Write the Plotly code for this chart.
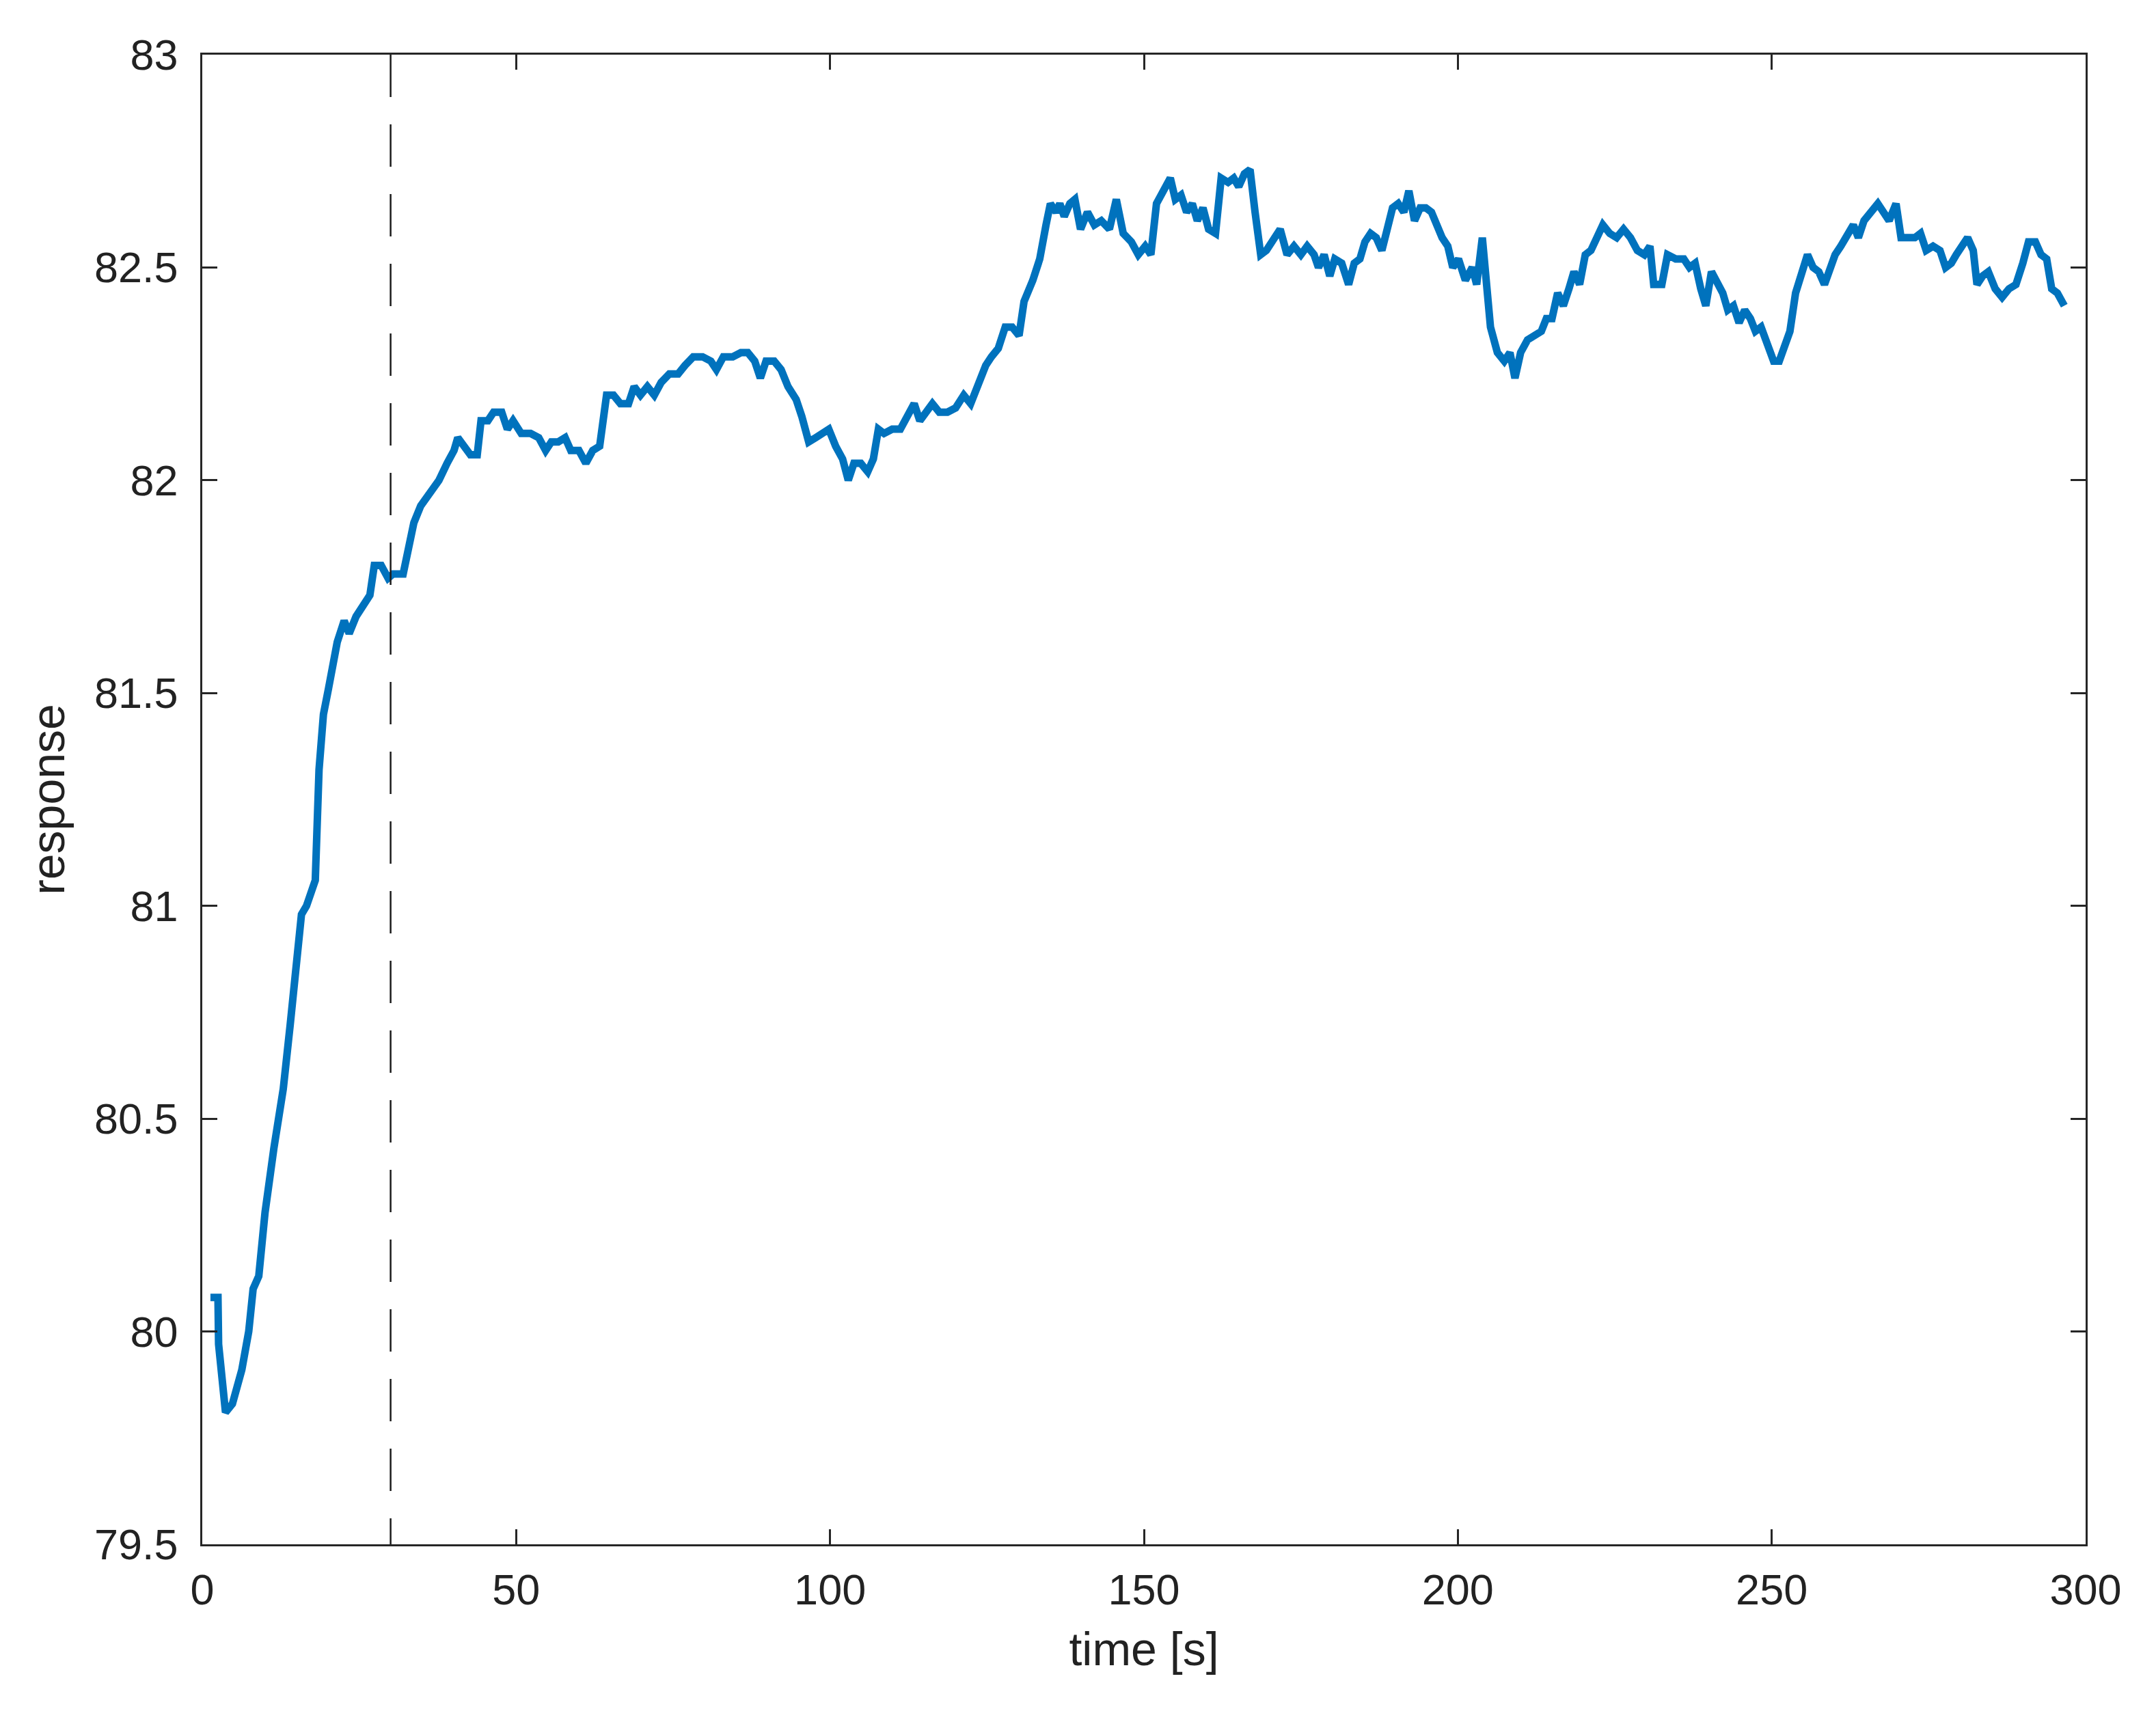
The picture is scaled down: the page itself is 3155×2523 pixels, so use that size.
import plotly.graph_objects as go

# time [s] and response values
time_s = [1.3, 2.5, 2.6, 3.7, 4.8, 6.3, 7.4, 8.1, 9.0, 10.0, 11.4, 12.9, 14.0, 15.1, 15.8, 16.6, 18.0, 18.6, 19.3, 20.1,
          21.5, 22.6, 23.4, 24.5, 25.4, 26.7, 27.4, 28.5, 29.6, 30.4, 32.0, 32.8, 33.7, 34.8, 36.1, 37.7, 39.0, 40.1, 40.7, 41.8,
          42.7, 43.8, 44.4, 45.5, 46.4, 47.7, 48.6, 49.5, 50.8, 52.3, 53.6, 54.7, 55.6, 56.7, 57.8, 58.7, 60.0, 61.1, 62.2, 63.3,
          64.4, 65.5, 66.6, 67.9, 68.8, 69.8, 70.9, 72.0, 73.1, 74.4, 75.8, 76.9, 78.2, 79.7, 81.0, 81.9, 83.0, 84.5, 85.8, 86.9,
          88.0, 88.9, 89.8, 91.1, 92.2, 93.3, 94.6, 95.5, 96.6, 97.7, 98.8, 99.8, 100.9, 102.0, 102.9, 103.8, 104.9, 106.0, 106.9, 107.7,
          108.6, 109.9, 111.2, 112.3, 113.4, 114.3, 115.2, 116.3, 117.4, 118.7, 120.0, 121.3, 122.4, 123.5, 124.8, 125.7, 126.8, 127.9, 129.0, 130.1,
          130.9, 132.3, 133.4, 134.4, 135.1, 136.0, 136.6, 137.3, 138.2, 139.0, 139.9, 141.0, 142.1, 143.2, 144.5, 145.6, 146.7, 148.0, 149.1, 150.2,
          151.1, 152.0, 153.1, 154.2, 155.0, 155.9, 156.8, 157.7, 158.5, 159.4, 160.3, 161.4, 162.3, 163.4, 164.3, 165.1, 166.0, 166.9, 167.7, 168.6,
          169.5, 170.3, 171.7, 172.8, 173.9, 175.0, 176.0, 177.1, 177.8, 178.7, 179.6, 180.4, 181.5, 182.6, 183.5, 184.4, 185.2, 186.1, 187.0, 187.9,
          188.8, 189.6, 190.5, 191.4, 192.2, 193.1, 194.0, 194.9, 195.8, 196.6, 197.5, 198.4, 199.2, 200.1, 201.2, 202.3, 203.0, 203.9, 204.5, 205.2,
          206.3, 207.4, 208.3, 209.1, 210.0, 211.1, 212.2, 213.3, 214.1, 215.0, 215.9, 216.8, 217.7, 218.5, 219.4, 220.3, 221.2, 222.0, 223.1, 224.2,
          225.3, 226.4, 227.5, 228.6, 229.7, 230.6, 231.2, 232.5, 233.4, 234.7, 236.0, 236.9, 237.8, 238.7, 239.5, 240.4, 241.3, 242.2, 243.0, 243.9,
          244.8, 245.7, 246.6, 247.4, 248.3, 249.4, 250.3, 251.2, 252.0, 252.9, 253.8, 254.9, 255.7, 256.6, 257.5, 258.4, 259.3, 260.1, 261.0, 261.9,
          263.0, 263.8, 264.7, 265.8, 266.9, 267.8, 268.7, 269.8, 270.6, 271.7, 272.8, 273.7, 274.6, 275.7, 276.8, 277.7, 278.6, 279.4, 280.3, 281.2,
          282.1, 282.7, 283.6, 284.5, 285.6, 286.7, 287.8, 288.9, 290.0, 290.9, 292.0, 292.9, 293.8, 294.6, 295.5, 296.6]

response = [80.08, 80.08, 79.97, 79.81, 79.83, 79.91, 80.00, 80.10, 80.13, 80.28, 80.43, 80.57, 80.72, 80.86, 80.98, 81.00, 81.06, 81.32, 81.45, 81.51,
            81.62, 81.67, 81.64, 81.68, 81.70, 81.73, 81.80, 81.80, 81.77, 81.78, 81.78, 81.83, 81.90, 81.94, 81.97, 82.00, 82.04, 82.07, 82.10, 82.08,
            82.06, 82.06, 82.14, 82.14, 82.16, 82.16, 82.12, 82.14, 82.11, 82.11, 82.10, 82.07, 82.09, 82.09, 82.10, 82.07, 82.07, 82.04, 82.07, 82.08,
            82.20, 82.20, 82.18, 82.18, 82.22, 82.20, 82.22, 82.20, 82.23, 82.25, 82.25, 82.27, 82.29, 82.29, 82.28, 82.26, 82.29, 82.29, 82.30, 82.30,
            82.28, 82.24, 82.28, 82.28, 82.26, 82.22, 82.19, 82.15, 82.09, 82.10, 82.11, 82.12, 82.08, 82.05, 82.00, 82.04, 82.04, 82.02, 82.05, 82.12,
            82.11, 82.12, 82.12, 82.15, 82.18, 82.14, 82.16, 82.18, 82.16, 82.16, 82.17, 82.20, 82.18, 82.22, 82.27, 82.29, 82.31, 82.36, 82.36, 82.34,
            82.42, 82.47, 82.52, 82.60, 82.65, 82.63, 82.65, 82.62, 82.65, 82.66, 82.59, 82.63, 82.60, 82.61, 82.59, 82.66, 82.58, 82.56, 82.53, 82.55,
            82.53, 82.65, 82.68, 82.71, 82.66, 82.67, 82.63, 82.65, 82.61, 82.64, 82.59, 82.58, 82.71, 82.70, 82.71, 82.69, 82.72, 82.73, 82.63, 82.53,
            82.54, 82.56, 82.59, 82.53, 82.55, 82.53, 82.55, 82.53, 82.50, 82.53, 82.48, 82.52, 82.51, 82.46, 82.51, 82.52, 82.56, 82.58, 82.57, 82.54,
            82.59, 82.64, 82.65, 82.63, 82.68, 82.61, 82.64, 82.64, 82.63, 82.60, 82.57, 82.55, 82.50, 82.52, 82.47, 82.50, 82.46, 82.57, 82.46, 82.36,
            82.30, 82.28, 82.30, 82.24, 82.30, 82.33, 82.34, 82.35, 82.38, 82.38, 82.44, 82.41, 82.45, 82.49, 82.46, 82.53, 82.54, 82.57, 82.60, 82.58,
            82.57, 82.59, 82.57, 82.54, 82.53, 82.55, 82.46, 82.46, 82.53, 82.52, 82.52, 82.50, 82.51, 82.45, 82.41, 82.49, 82.46, 82.44, 82.40, 82.41,
            82.37, 82.40, 82.38, 82.35, 82.36, 82.32, 82.28, 82.28, 82.32, 82.35, 82.44, 82.50, 82.53, 82.50, 82.49, 82.46, 82.50, 82.53, 82.55, 82.57,
            82.60, 82.57, 82.61, 82.63, 82.65, 82.63, 82.61, 82.65, 82.57, 82.57, 82.57, 82.58, 82.54, 82.55, 82.54, 82.50, 82.51, 82.53, 82.55, 82.57,
            82.54, 82.46, 82.48, 82.49, 82.45, 82.43, 82.45, 82.46, 82.51, 82.56, 82.56, 82.53, 82.52, 82.45, 82.44, 82.41]

marker_time = 30
x_ticks = [0, 50, 100, 150, 200, 250, 300]
y_ticks = [79.5, 80, 80.5, 81, 81.5, 82, 82.5, 83]
y_tick_labels = ["79.5", "80", "80.5", "81", "81.5", "82", "82.5", "83"]

AX = "#262626"
FONT = "Liberation Sans, Arial, Helvetica, sans-serif"

fig = go.Figure()
fig.add_trace(go.Scatter(x=time_s, y=response, mode="lines",
                         line=dict(color="#0072BD", width=11), showlegend=False))

fig.add_shape(type="line", xref="x", yref="paper", x0=marker_time, x1=marker_time, y0=1, y1=0,
              line=dict(color="#1a1a1a", width=2.5, dash="62px,40px"))

axis_common = dict(showgrid=False, zeroline=False, showline=True, linecolor=AX, linewidth=2.5,
                   mirror="ticks", ticks="inside", ticklen=22, tickwidth=2.5, tickcolor=AX,
                   tickfont=dict(family=FONT, size=63, color="#222222"))

fig.update_xaxes(range=[0, 300], tickvals=x_ticks, ticktext=[str(v) for v in x_ticks],
                 title=dict(text="time [s]", font=dict(family=FONT, size=68, color="#222222"), standoff=30),
                 ticklabelstandoff=10, **axis_common)
fig.update_yaxes(range=[79.5, 83], tickvals=y_ticks, ticktext=y_tick_labels,
                 title=dict(text="response", font=dict(family=FONT, size=68, color="#222222"), standoff=22),
                 ticklabelstandoff=20, **axis_common)

fig.update_layout(width=3155, height=2523, plot_bgcolor="white", paper_bgcolor="white",
                  margin=dict(l=288, r=111, t=72, b=271))

fig.write_html("out.html")
